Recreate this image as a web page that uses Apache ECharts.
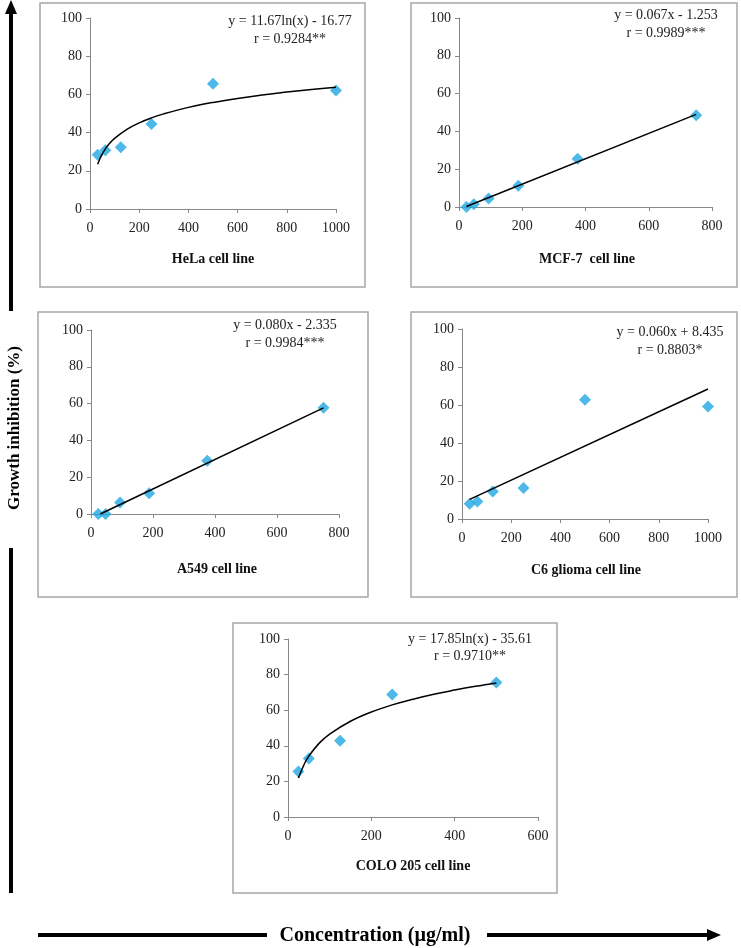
<!DOCTYPE html>
<html>
<head>
<meta charset="utf-8">
<script src="https://cdn.jsdelivr.net/npm/echarts@6/dist/echarts.min.js"></script>
<style>
  html, body { margin: 0; padding: 0; background: #fff; }
  #main { width: 741px; height: 948px; }
</style>
</head>
<body>
<div id="main"></div>
<script>
// measured points (concentration µg/ml, growth inhibition %)
const helaX = [31.25, 62.5, 125, 250, 500, 1000]
const helaY = [28.4, 30.7, 32.3, 44.5, 65.6, 62.1]
const helaFitX = [31.25, 45, 62.5, 80, 100, 150, 200, 250, 300, 400, 500, 600, 700, 800, 900, 1000]
const helaFitY = [23.4, 27.7, 31.5, 34.4, 37.0, 41.7, 45.1, 47.7, 49.8, 53.2, 55.8, 57.9, 59.7, 61.2, 62.6, 63.8]

const mcfX = [23.44, 46.88, 93.75, 187.5, 375, 750]
const mcfY = [0, 1.5, 4.5, 11.2, 25.5, 48.5]
const mcfFitX = [23.44, 750]
const mcfFitY = [0.3, 49.0]

const a549X = [23.44, 46.88, 93.75, 187.5, 375, 750]
const a549Y = [0, 0, 6.3, 11.3, 29.0, 57.8]
const a549FitX = [30, 750]
const a549FitY = [0, 57.7]

const c6X = [31.25, 62.5, 125, 250, 500, 1000]
const c6Y = [8.0, 9.2, 14.5, 16.3, 62.8, 59.2]
const c6FitX = [31.25, 1000]
const c6FitY = [10.3, 68.4]

const coloX = [25, 50, 125, 250, 500]
const coloY = [25.5, 32.8, 42.8, 68.8, 75.5]
const coloFitX = [25, 40, 50, 75, 100, 150, 200, 250, 300, 350, 400, 450, 500]
const coloFitY = [21.9, 30.2, 34.2, 41.5, 46.6, 53.8, 59.0, 63.0, 66.2, 69.0, 71.3, 73.4, 75.3]

const panelNames = ['HeLa cell line', 'MCF-7  cell line', 'A549 cell line', 'C6 glioma cell line', 'COLO 205 cell line']
const equations = [
  ['y = 11.67ln(x) - 16.77', 'r = 0.9284**'],
  ['y = 0.067x - 1.253', 'r = 0.9989***'],
  ['y = 0.080x - 2.335', 'r = 0.9984***'],
  ['y = 0.060x + 8.435', 'r = 0.8803*'],
  ['y = 17.85ln(x) - 35.61', 'r = 0.9710**']
]
const xMaxes = [1000, 800, 800, 1000, 600]

const serif = 'Liberation Serif'
const pts = [[helaX, helaY], [mcfX, mcfY], [a549X, a549Y], [c6X, c6Y], [coloX, coloY]]
const fits = [[helaFitX, helaFitY, true], [mcfFitX, mcfFitY, false], [a549FitX, a549FitY, false], [c6FitX, c6FitY, false], [coloFitX, coloFitY, true]]

// layout of each panel: plot rect, frame, label spots
const grids = [
  { left: 90, top: 18, width: 246, height: 191 },
  { left: 459, top: 18, width: 253, height: 189 },
  { left: 91, top: 330, width: 248, height: 184 },
  { left: 462, top: 329, width: 246, height: 190 },
  { left: 288, top: 639, width: 250, height: 178 }
]
const frames = [[40, 3, 325, 284], [411, 3, 326, 284], [38, 312, 330, 285], [411, 312, 326, 285], [233, 623, 324, 270]]
const eqPos = [[290, 21, 39], [666, 15, 33], [285, 325, 343], [670, 332, 350], [470, 639, 656]]
const namePos = [[213, 259], [587, 259], [217, 569], [586, 570], [413, 866]]

const zip = (a, b) => a.map((v, i) => [v, b[i]])

let myChart = echarts.init(document.getElementById('main'))

let xAxes = []
let yAxes = []
let series = []
let graphics = []

grids.forEach((g, i) => {
  xAxes.push({
    type: 'value',
    gridIndex: i,
    min: 0,
    max: xMaxes[i],
    interval: 200,
    axisLine: { lineStyle: { color: '#888', width: 1 } },
    axisTick: { show: true, inside: false, length: 4, lineStyle: { color: '#888' } },
    axisLabel: { color: '#222', fontFamily: serif, fontSize: 14, margin: 12, formatter: v => String(v) },
    splitLine: { show: false }
  })
  yAxes.push({
    type: 'value',
    gridIndex: i,
    min: 0,
    max: 100,
    interval: 20,
    axisLine: { show: true, lineStyle: { color: '#888', width: 1 } },
    axisTick: { show: true, inside: false, length: 4, lineStyle: { color: '#888' } },
    axisLabel: { color: '#222', fontFamily: serif, fontSize: 14, margin: 8 },
    splitLine: { show: false }
  })
  series.push({
    type: 'line',
    xAxisIndex: i,
    yAxisIndex: i,
    data: zip(fits[i][0], fits[i][1]),
    smooth: fits[i][2] ? 0.4 : false,
    showSymbol: false,
    lineStyle: { color: '#000', width: 1.5 },
    z: 3
  })
  series.push({
    type: 'scatter',
    xAxisIndex: i,
    yAxisIndex: i,
    data: zip(pts[i][0], pts[i][1]),
    symbol: 'diamond',
    symbolSize: 12,
    itemStyle: { color: '#1fa8e3' },
    z: 2
  })
  // frame round each panel
  let f = frames[i]
  graphics.push({
    type: 'rect',
    shape: { x: f[0], y: f[1], width: f[2], height: f[3] },
    style: { fill: 'none', stroke: '#a6a6a6', lineWidth: 1.5 },
    silent: true
  })
  // equation and r, one line each
  for (let k = 0; k < 2; k++) {
    graphics.push({
      type: 'text',
      x: eqPos[i][0],
      y: eqPos[i][1 + k],
      style: {
        text: equations[i][k],
        fill: '#222',
        font: '14px "Liberation Serif"',
        align: 'center',
        verticalAlign: 'middle'
      }
    })
  }
  graphics.push({
    type: 'text',
    x: namePos[i][0],
    y: namePos[i][1],
    style: {
      text: panelNames[i],
      fill: '#111',
      font: 'bold 14px "Liberation Serif"',
      align: 'center',
      verticalAlign: 'middle'
    }
  })
})

// big axis arrows
graphics.push(
  { type: 'line', shape: { x1: 11, y1: 12, x2: 11, y2: 311 }, style: { stroke: '#000', lineWidth: 4 } },
  { type: 'polygon', shape: { points: [[11, 0], [5, 14], [17, 14]] }, style: { fill: '#000' } },
  { type: 'line', shape: { x1: 11, y1: 548, x2: 11, y2: 893 }, style: { stroke: '#000', lineWidth: 4 } },
  {
    type: 'text',
    x: 15,
    y: 428,
    rotation: Math.PI / 2,
    style: {
      text: 'Growth inhibition (%)',
      fill: '#000',
      font: 'bold 17px "Liberation Serif"',
      align: 'center',
      verticalAlign: 'middle'
    }
  },
  { type: 'line', shape: { x1: 38, y1: 935, x2: 267, y2: 935 }, style: { stroke: '#000', lineWidth: 4 } },
  { type: 'line', shape: { x1: 487, y1: 935, x2: 710, y2: 935 }, style: { stroke: '#000', lineWidth: 4 } },
  { type: 'polygon', shape: { points: [[721, 935], [707, 929], [707, 941]] }, style: { fill: '#000' } },
  {
    type: 'text',
    x: 375,
    y: 936,
    style: {
      text: 'Concentration (µg/ml)',
      fill: '#000',
      font: 'bold 20px "Liberation Serif"',
      align: 'center',
      verticalAlign: 'middle'
    }
  }
)

let option = {
  animation: false,
  backgroundColor: '#fff',
  grid: grids.map(g => Object.assign({ containLabel: false }, g)),
  xAxis: xAxes,
  yAxis: yAxes,
  series: series,
  graphic: graphics
}
myChart.setOption(option, true)
</script>
</body>
</html>
